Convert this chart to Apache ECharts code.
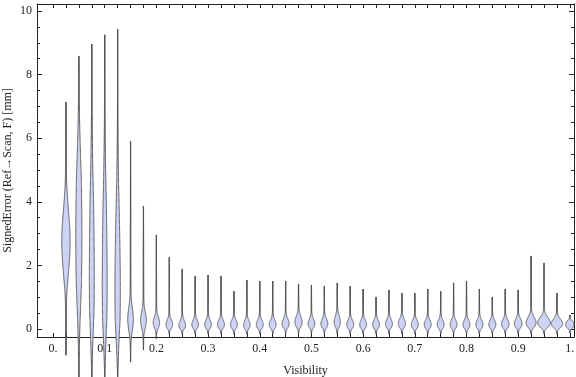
<!DOCTYPE html>
<html>
<head>
<meta charset="utf-8">
<script src="https://cdn.jsdelivr.net/npm/echarts@6/dist/echarts.min.js"></script>
<style>
  html, body { margin: 0; padding: 0; background: #fff; }
  #chart { width: 576px; height: 377px; }
</style>
</head>
<body>
<div id="chart"></div>
<script>
// one violin per visibility bin
const visibility = [0.025, 0.05, 0.075, 0.1, 0.125, 0.15, 0.175, 0.2, 0.225, 0.25,
  0.275, 0.3, 0.325, 0.35, 0.375, 0.4, 0.425, 0.45, 0.475, 0.5,
  0.525, 0.55, 0.575, 0.6, 0.625, 0.65, 0.675, 0.7, 0.725, 0.75,
  0.775, 0.8, 0.825, 0.85, 0.875, 0.9, 0.925, 0.95, 0.975, 1.0];
const highEnd = [7.14, 8.58, 8.96, 9.25, 9.43, 5.91, 3.87, 2.96, 2.26, 1.89,
  1.67, 1.70, 1.67, 1.19, 1.54, 1.51, 1.51, 1.51, 1.42, 1.38,
  1.35, 1.45, 1.35, 1.26, 1.01, 1.23, 1.13, 1.13, 1.26, 1.19,
  1.45, 1.51, 1.26, 1.01, 1.26, 1.23, 2.30, 2.08, 1.13, 0.44];
const lowEnd = [-0.82, -1.6, -1.6, -1.6, -1.6, -1.04, -0.66, -0.30, -0.16, -0.15,
  -0.15, -0.15, -0.15, -0.15, -0.15, -0.15, -0.15, -0.15, -0.15, -0.15,
  -0.15, -0.15, -0.15, -0.15, -0.15, -0.15, -0.15, -0.15, -0.15, -0.15,
  -0.15, -0.15, -0.15, -0.15, -0.15, -0.15, -0.15, -0.15, -0.15, -0.12];
const peakAt = [2.75, 2.9, 1.6, 1.4, 1.2, 0.3, 0.28, 0.2, 0.14, 0.12,
  0.14, 0.14, 0.14, 0.14, 0.12, 0.14, 0.14, 0.17, 0.22, 0.17,
  0.17, 0.22, 0.14, 0.14, 0.14, 0.16, 0.17, 0.14, 0.14, 0.14,
  0.14, 0.14, 0.14, 0.14, 0.16, 0.17, 0.2, 0.2, 0.17, 0.14];
const spread = [0.95, 2.8, 3.0, 2.8, 2.4, 0.35, 0.24, 0.17, 0.14, 0.14,
  0.14, 0.14, 0.14, 0.14, 0.14, 0.14, 0.14, 0.15, 0.18, 0.14,
  0.15, 0.19, 0.14, 0.14, 0.14, 0.14, 0.15, 0.14, 0.14, 0.14,
  0.14, 0.14, 0.14, 0.14, 0.14, 0.15, 0.17, 0.16, 0.14, 0.12];
const density = [0.62, 0.44, 0.34, 0.34, 0.38, 0.40, 0.42, 0.46, 0.48, 0.48,
  0.48, 0.48, 0.50, 0.50, 0.48, 0.50, 0.50, 0.52, 0.52, 0.50,
  0.50, 0.44, 0.50, 0.50, 0.50, 0.50, 0.52, 0.50, 0.50, 0.50,
  0.50, 0.50, 0.52, 0.52, 0.56, 0.56, 0.74, 0.97, 0.86, 0.62];

const xTickValues = [0, 0.1, 0.2, 0.3, 0.4, 0.5, 0.6, 0.7, 0.8, 0.9, 1];
const xTickLabels = ['0.', '0.1', '0.2', '0.3', '0.4', '0.5', '0.6', '0.7', '0.8', '0.9', '1.'];
const xMinorTicks = [0].concat(visibility);
const yTickValues = [0, 2, 4, 6, 8, 10];
const yMinorTicks = [0, 0.5, 1, 1.5, 2, 2.5, 3, 3.5, 4, 4.5, 5, 5.5, 6, 6.5, 7, 7.5, 8, 8.5, 9, 9.5, 10];

const FONT = 'Liberation Serif';
const INK = '#222';
const MAX_HALF = 6.2; // px half-width for density 1
const TAIL = 0.35;

const chart = echarts.init(document.getElementById('chart'));

const renderViolin = (params, api) => {
  const x = api.value(0), lo = api.value(1), hi = api.value(2);
  const c = api.value(3), s = api.value(4), d = api.value(5);
  const steps = 300;
  const right = [], left = [];
  for (let k = 0; k <= steps; k++) {
    const y = hi - (hi - lo) * k / steps;
    const z = (y - c) / s;
    const taper = Math.max(0, y > c ? (hi - y) / (hi - c) : (y - lo) / (c - lo));
    const hw = d * MAX_HALF * Math.exp(-0.5 * z * z) * Math.min(1, 1.5 * taper) + TAIL * taper;
    const p = api.coord([x, y]);
    right.push([p[0] + hw, p[1]]);
    left.unshift([p[0] - hw, p[1]]);
  }
  const top = api.coord([x, hi]);
  const bot = api.coord([x, lo]);
  return {
    type: 'group',
    children: [
      { type: 'line', shape: { x1: top[0], y1: top[1], x2: bot[0], y2: bot[1] },
        style: { stroke: '#4a4a4a', lineWidth: 1.2 } },
      { type: 'polygon', shape: { points: right.concat(left) },
        style: { fill: '#ccd3f5', stroke: '#555', lineWidth: 0.9 } }
    ]
  };
};

const xLabel = (v) => {
  const i = xTickValues.findIndex((t) => Math.abs(t - v) < 1e-6);
  return i < 0 ? '' : xTickLabels[i];
};

const frameX = (position, extra) => Object.assign({
  type: 'value', position, min: -0.031, max: 1.008,
  axisLine: { show: true, onZero: false, lineStyle: { color: INK, width: 1 } },
  splitLine: { show: false },
  axisTick: { inside: true, length: 4, customValues: xMinorTicks, lineStyle: { color: INK } },
  axisLabel: { show: false }
}, extra);

const frameY = (position, major, extra) => Object.assign({
  type: 'value', position, min: -0.25, max: 10.22,
  axisLine: { show: major, onZero: false, lineStyle: { color: INK, width: 1 } },
  splitLine: { show: false },
  axisTick: { inside: true, length: major ? 5 : 3, customValues: major ? yTickValues : yMinorTicks,
    lineStyle: { color: INK } },
  axisLabel: { show: false }
}, extra);

chart.setOption({
  backgroundColor: '#fff',
  animation: false,
  grid: { left: 37, right: 2, top: 4, bottom: 40, outerBoundsMode: 'none', containLabel: false },
  xAxis: [
    frameX('bottom', {
      name: 'Visibility', nameLocation: 'middle', nameGap: 28,
      nameTextStyle: { fontFamily: FONT, fontSize: 12, color: INK },
      axisLabel: { show: true, customValues: xTickValues, formatter: xLabel, margin: 6,
        fontFamily: FONT, fontSize: 12, color: INK }
    }),
    frameX('top')
  ],
  yAxis: [
    frameY('left', true, {
      name: 'SignedError (Ref\u2192Scan, F) [mm]', nameLocation: 'middle', nameGap: 23,
      nameMoveOverlap: false,
      nameTextStyle: { fontFamily: FONT, fontSize: 12, color: INK },
      axisLabel: { show: true, customValues: yTickValues, margin: 5,
        fontFamily: FONT, fontSize: 12, color: INK }
    }),
    frameY('left', false),
    frameY('right', true),
    frameY('right', false)
  ],
  series: [{
    type: 'custom',
    clip: false,
    xAxisIndex: 0,
    yAxisIndex: 0,
    renderItem: renderViolin,
    encode: { x: 0, y: [1, 2] },
    data: visibility.map((v, i) => [v, lowEnd[i], highEnd[i], peakAt[i], spread[i], density[i]])
  }]
});
</script>
</body>
</html>
